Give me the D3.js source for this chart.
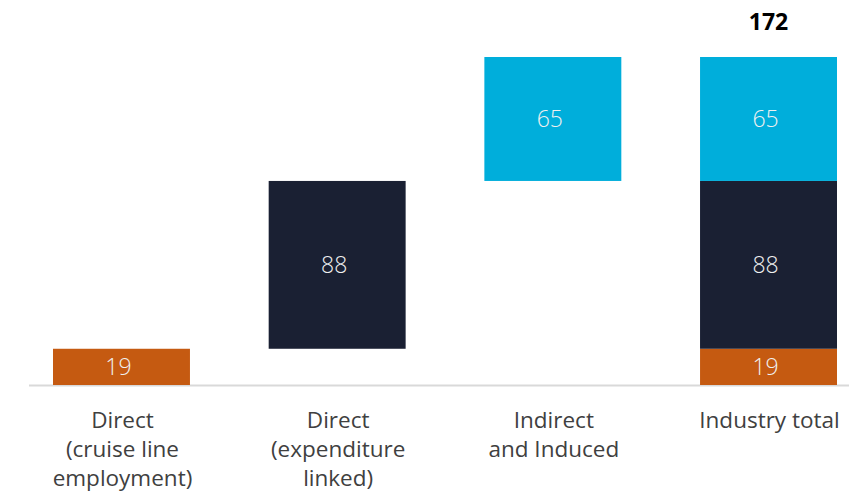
<!DOCTYPE html>
<html>
<head>
<meta charset="utf-8">
<script src="https://cdn.jsdelivr.net/npm/d3@7"></script>
<style>
  body { margin: 0; background: #fff; }
  text { font-family: "Open Sans", sans-serif; }
</style>
</head>
<body>
<div id="chart"></div>
<script>
// data
const categories = ["Direct (cruise line employment)", "Direct (expenditure linked)", "Indirect and Induced", "Industry total"];
const categoryLines = [["Direct", "(cruise line", "employment)"], ["Direct", "(expenditure", "linked)"], ["Indirect", "and Induced"], ["Industry total"]];
const components = ["cruise", "expenditure", "indirect"];
const componentValues = [19, 88, 65];
const componentColors = ["#c55a11", "#1a2033", "#00aedb"];
const totalLabel = 172;

const width = 849, height = 497;

const svg = d3.select("#chart")
  .append("svg")
  .attr("width", width)
  .attr("height", height);

const yScale = d3.scaleLinear()
  .domain([0, 172])
  .range([385, 57]);

const xScale = d3.scaleBand()
  .domain(categories)
  .range([53, 837])
  .paddingInner(0.365)
  .paddingOuter(0);

// waterfall segments: each component floats, last column stacks them all
let segs = [];
let running = 0;
componentValues.forEach((v, i) => {
  segs.push({cat: categories[i], y0: running, y1: running + v, v: v, color: componentColors[i]});
  running += v;
});
let acc = 0;
componentValues.forEach((v, i) => {
  segs.push({cat: categories[3], y0: acc, y1: acc + v, v: v, color: componentColors[i]});
  acc += v;
});

// baseline
svg.append("line")
  .attr("x1", 29)
  .attr("x2", width)
  .attr("y1", yScale(0) + 0.5)
  .attr("y2", yScale(0) + 0.5)
  .attr("stroke", "#d9d9d9")
  .attr("stroke-width", 2);

svg.selectAll(".bar")
  .data(segs)
  .enter()
  .append("rect")
    .attr("class", "bar")
    .attr("x", d => xScale(d.cat))
    .attr("y", d => yScale(d.y1))
    .attr("width", xScale.bandwidth())
    .attr("height", d => yScale(d.y0) - yScale(d.y1))
    .attr("fill", d => d.color);

svg.selectAll(".val")
  .data(segs)
  .enter()
  .append("text")
    .attr("class", "val")
    .attr("x", d => xScale(d.cat) + xScale.bandwidth() / 2 - 3)
    .attr("y", d => (yScale(d.y0) + yScale(d.y1)) / 2)
    .attr("dy", "0.36em")
    .attr("text-anchor", "middle")
    .attr("font-size", "23px")
    .attr("font-weight", 300)
    .attr("fill", "#f0f0f0")
    .text(d => d.v);

// total label
svg.append("text")
  .attr("x", xScale(categories[3]) + xScale.bandwidth() / 2)
  .attr("y", 30)
  .attr("text-anchor", "middle")
  .attr("font-size", "23px")
  .attr("font-weight", 700)
  .attr("fill", "#000")
  .text(totalLabel);

// category labels
const lab = svg.selectAll(".cat")
  .data(categories)
  .enter()
  .append("text")
    .attr("class", "cat")
    .attr("text-anchor", "middle")
    .attr("font-size", "22.5px")
    .attr("fill", "#404040");

lab.each(function(d, i) {
  const t = d3.select(this);
  categoryLines[i].forEach((line, j) => {
    t.append("tspan")
      .attr("x", xScale(d) + xScale.bandwidth() / 2 + 1)
      .attr("y", 428 + j * 29)
      .text(line);
  });
});
</script>
</body>
</html>
